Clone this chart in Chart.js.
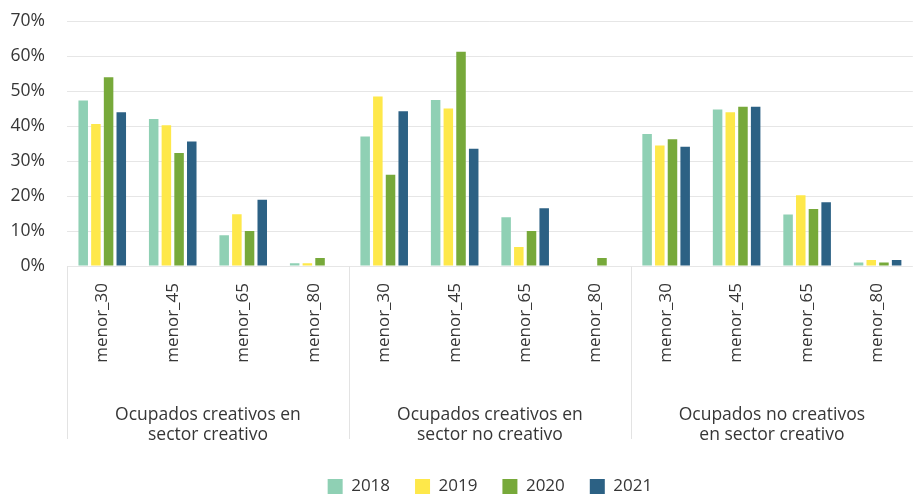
<!DOCTYPE html>
<html>
<head>
<meta charset="utf-8">
<script src="https://cdn.jsdelivr.net/npm/chart.js"></script>
<style>
  html, body { margin: 0; padding: 0; background: #fff; }
  #wrap { width: 915px; height: 495px; overflow: hidden; }
</style>
</head>
<body>
<div id="wrap"><canvas id="barChart"></canvas></div>
<script>
  // categorías (edad) repetidas en cada grupo
  const ageLabels = ['menor_30', 'menor_45', 'menor_65', 'menor_80',
                     'menor_30', 'menor_45', 'menor_65', 'menor_80',
                     'menor_30', 'menor_45', 'menor_65', 'menor_80'];
  const groupLabels = [
    ['Ocupados creativos en', 'sector creativo'],
    ['Ocupados creativos en', 'sector no creativo'],
    ['Ocupados no creativos', 'en sector creativo']
  ];
  const yTicks = [0, 10, 20, 30, 40, 50, 60, 70];

  // valores en %
  const v2018 = [47.3, 42.0, 8.8, 0.8,   37.0, 47.4, 13.9, 0,    37.7, 44.7, 14.7, 1.0];
  const v2019 = [40.6, 40.2, 14.8, 0.8,  48.4, 45.0, 5.4, 0,     34.4, 43.9, 20.2, 1.7];
  const v2020 = [53.9, 32.3, 10.0, 2.3,  26.1, 61.2, 10.0, 2.3,  36.2, 45.5, 16.3, 1.0];
  const v2021 = [43.9, 35.6, 18.9, 0,    44.2, 33.5, 16.5, 0,    34.1, 45.5, 18.2, 1.7];

  const textColor = '#363636';
  const fontFamily = "'Open Sans', sans-serif";
  const groupGap = 14; // espacio bajo los nombres de grupo

  // separadores verticales entre grupos
  const groupSeparators = {
    id: 'groupSeparators',
    afterDraw(chart) {
      const x = chart.scales.x;
      const g = chart.scales.group;
      const ctx = chart.ctx;
      const half = (x.getPixelForValue(1) - x.getPixelForValue(0)) / 2;
      ctx.save();
      ctx.strokeStyle = '#e3e3e3';
      ctx.lineWidth = 1;
      [0, 4, 8].forEach(i => {
        const px = Math.round(x.getPixelForValue(i) - half) + 0.5;
        ctx.beginPath();
        ctx.moveTo(px, chart.chartArea.bottom);
        ctx.lineTo(px, g.bottom - groupGap);
        ctx.stroke();
      });
      ctx.restore();
    }
  };

  new Chart(document.getElementById('barChart'), {
    type: 'bar',
    data: {
      labels: ageLabels,
      datasets: [
        { label: '2018', data: v2018, backgroundColor: '#8fd0b4' },
        { label: '2019', data: v2019, backgroundColor: '#fee84a' },
        { label: '2020', data: v2020, backgroundColor: '#77a93a' },
        { label: '2021', data: v2021, backgroundColor: '#2c6184' }
      ]
    },
    options: {
      responsive: true,
      maintainAspectRatio: false,
      animation: false,
      layout: { padding: { left: 10, right: -10, top: 21, bottom: -10 } },
      datasets: { bar: { categoryPercentage: 0.72, barPercentage: 0.75 } },
      plugins: {
        tooltip: { enabled: false },
        legend: {
          position: 'bottom',
          fullSize: false,
          labels: {
            color: textColor,
            font: { family: fontFamily, size: 17 },
            boxWidth: 15,
            boxHeight: 15,
            padding: 25
          }
        }
      },
      scales: {
        x: {
          weight: 0,
          grid: { display: false, drawTicks: false },
          border: { display: false },
          afterFit(axis) { axis.height = 109; },
          ticks: {
            color: textColor,
            font: { family: fontFamily, size: 17 },
            minRotation: 90,
            maxRotation: 90,
            autoSkip: false,
            padding: 17
          }
        },
        group: {
          type: 'category',
          labels: groupLabels,
          position: 'bottom',
          weight: 1,
          offset: true,
          grid: { display: false, drawTicks: false },
          border: { display: false },
          afterFit(axis) { axis.height = 64 + groupGap; },
          ticks: {
            color: textColor,
            font: { family: fontFamily, size: 17.5, lineHeight: 1.15 },
            maxRotation: 0,
            padding: 30
          }
        },
        y: {
          min: 0,
          max: 70,
          afterBuildTicks(axis) { axis.ticks = yTicks.map(v => ({ value: v })); },
          afterFit(axis) {
            axis.width = 57;
            axis.paddingTop = 0;
            axis.paddingBottom = 0;
          },
          grid: { color: '#e6e6e6', drawTicks: false },
          border: { display: false },
          ticks: {
            color: textColor,
            font: { family: fontFamily, size: 17.5 },
            padding: 22,
            callback: v => v + '%'
          }
        }
      }
    },
    plugins: [groupSeparators]
  });
</script>
</body>
</html>
